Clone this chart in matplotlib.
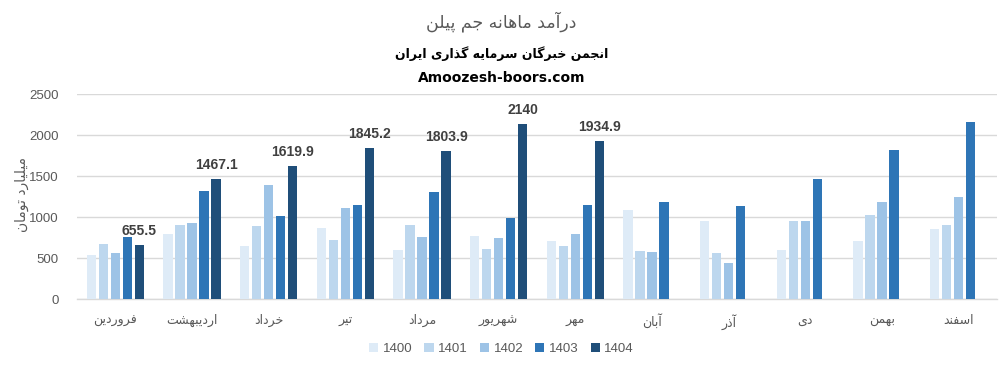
import matplotlib
matplotlib.use('Agg')
import matplotlib.pyplot as plt
from matplotlib.patches import Patch
import numpy as np

# ---------------- data ----------------
months = ['فروردین', 'اردیبهشت', 'خرداد', 'تیر', 'مرداد', 'شهریور',
          'مهر', 'آبان', 'آذر', 'دی', 'بهمن', 'اسفند']
years = ['1400', '1401', '1402', '1403', '1404']
v1400 = [537, 794, 647, 867, 599, 770, 709, 1087, 953, 599, 709, 855]
v1401 = [672, 904, 892, 721, 904, 611, 647, 586, 562, 953, 1026, 904]
v1402 = [562, 928, 1393, 1112, 757, 745, 794, 574, 440, 953, 1185, 1246]
v1403 = [757, 1319, 1014, 1148, 1307, 990, 1148, 1185, 1136, 1466, 1820, 2162]
v1404 = [655.5, 1467.1, 1619.9, 1845.2, 1803.9, 2140, 1934.9]
yticks = [0, 500, 1000, 1500, 2000, 2500]
title1 = 'درآمد ماهانه جم پیلن'
title2 = 'انجمن خبرگان سرمایه گذاری ایران'
title3 = 'Amoozesh-boors.com'
ylabel = 'میلیارد تومان'
colors = ['#deebf7', '#bdd7ee', '#9dc3e6', '#2e75b6', '#1f4e79']

# ------------- minimal Persian shaping (presentation forms + RTL) -------------
DUAL = {'ب': 0xFE8F, 'ت': 0xFE95, 'ث': 0xFE99, 'ج': 0xFE9D, 'ح': 0xFEA1,
        'خ': 0xFEA5, 'س': 0xFEB1, 'ش': 0xFEB5, 'ص': 0xFEB9, 'ض': 0xFEBD,
        'ط': 0xFEC1, 'ظ': 0xFEC5, 'ع': 0xFEC9, 'غ': 0xFECD, 'ف': 0xFED1,
        'ق': 0xFED5, 'ك': 0xFED9, 'ل': 0xFEDD, 'م': 0xFEE1, 'ن': 0xFEE5,
        'ه': 0xFEE9, 'ي': 0xFEF1, 'پ': 0xFB56, 'چ': 0xFB7A, 'ک': 0xFB8E,
        'گ': 0xFB92, 'ی': 0xFBFC}
RIGHT = {'ا': 0xFE8D, 'آ': 0xFE81, 'د': 0xFEA9, 'ذ': 0xFEAB, 'ر': 0xFEAD,
         'ز': 0xFEAF, 'ژ': 0xFB8A, 'و': 0xFEED, 'ة': 0xFE93}


def shape(s):
    out = []
    n = len(s)
    i = 0
    while i < n:
        c = s[i]
        prev = s[i - 1] if i > 0 else ''
        jp = prev in DUAL and (c in DUAL or c in RIGHT)
        if c == 'ل' and i + 1 < n and s[i + 1] in ('ا', 'آ'):
            base = 0xFEFB if s[i + 1] == 'ا' else 0xFEF5
            out.append(chr(base + (1 if jp else 0)))
            i += 2
            continue
        nxt = s[i + 1] if i + 1 < n else ''
        if c in DUAL:
            jn = nxt in DUAL or nxt in RIGHT
            off = 3 if (jp and jn) else 1 if jp else 2 if jn else 0
            out.append(chr(DUAL[c] + off))
        elif c in RIGHT:
            out.append(chr(RIGHT[c] + (1 if jp else 0)))
        else:
            out.append(c)
        i += 1
    return ''.join(out)[::-1]


AR = ['DejaVu Sans']
NUM = ['Liberation Sans', 'DejaVu Sans']
GRAY = '#595959'

# ---------------- figure ----------------
W, H = 1003, 371
fig = plt.figure(figsize=(W / 100, H / 100), dpi=100)
ax = fig.add_axes([77 / W, 1 - 299 / H, (997 - 77) / W, (299 - 94.3) / H])

series = [v1400, v1401, v1402, v1403, v1404]
pitch = 0.157
bw = 0.124
containers = []
for k, vals in enumerate(series):
    x = np.arange(len(vals)) + (k - 2) * pitch
    c = ax.bar(x, vals, width=bw, color=colors[k], zorder=3, linewidth=0)
    containers.append(c)

ax.bar_label(containers[4], labels=[f'{v:g}' for v in v1404], padding=5,
             fontsize=10, fontweight='bold', color='#404040', family=NUM)

ax.set_xlim(-0.5, len(months) - 0.5)
ax.set_ylim(0, 2500)
ax.set_yticks(yticks)
ax.set_yticklabels([str(t) for t in yticks], family=NUM, fontsize=9.5, color=GRAY)
ax.set_xticks(np.arange(len(months)))
ax.set_xticklabels([shape(m) for m in months], family=AR, fontsize=9, color=GRAY)
ax.tick_params(axis='both', length=0)
ax.tick_params(axis='y', pad=13)
ax.tick_params(axis='x', pad=11)
ax.grid(axis='y', color='#d9d9d9', linewidth=1, zorder=0)
for s in ['top', 'right', 'left']:
    ax.spines[s].set_visible(False)
ax.spines['bottom'].set_color('#d9d9d9')
ax.spines['bottom'].set_linewidth(1)

fig.text(22 / W, 1 - 194 / H, shape(ylabel), rotation=90, ha='center', va='center',
         family=AR, fontsize=10, color=GRAY)

fig.text(0.5, 1 - 22 / H, shape(title1), ha='center', va='center',
         family=AR, fontsize=12.5, color=GRAY)
fig.text(0.5, 1 - 54 / H, shape(title2), ha='center', va='center',
         family=AR, fontsize=9, fontweight='bold', color='black')
fig.text(0.5, 1 - 78 / H, title3, ha='center', va='center',
         family=['DejaVu Sans'], fontsize=10, fontweight='bold', color='black')

handles = [Patch(facecolor=colors[k], edgecolor='none') for k in range(5)]
leg = fig.legend(handles, years, loc='center', bbox_to_anchor=(0.5, 1 - 349 / H),
                 ncol=5, frameon=False, handlelength=0.7, handleheight=0.7,
                 handletextpad=0.35, columnspacing=0.9,
                 prop={'family': NUM, 'size': 9.5})
for t in leg.get_texts():
    t.set_color(GRAY)

fig.savefig('out.png', dpi=100, facecolor='white')
